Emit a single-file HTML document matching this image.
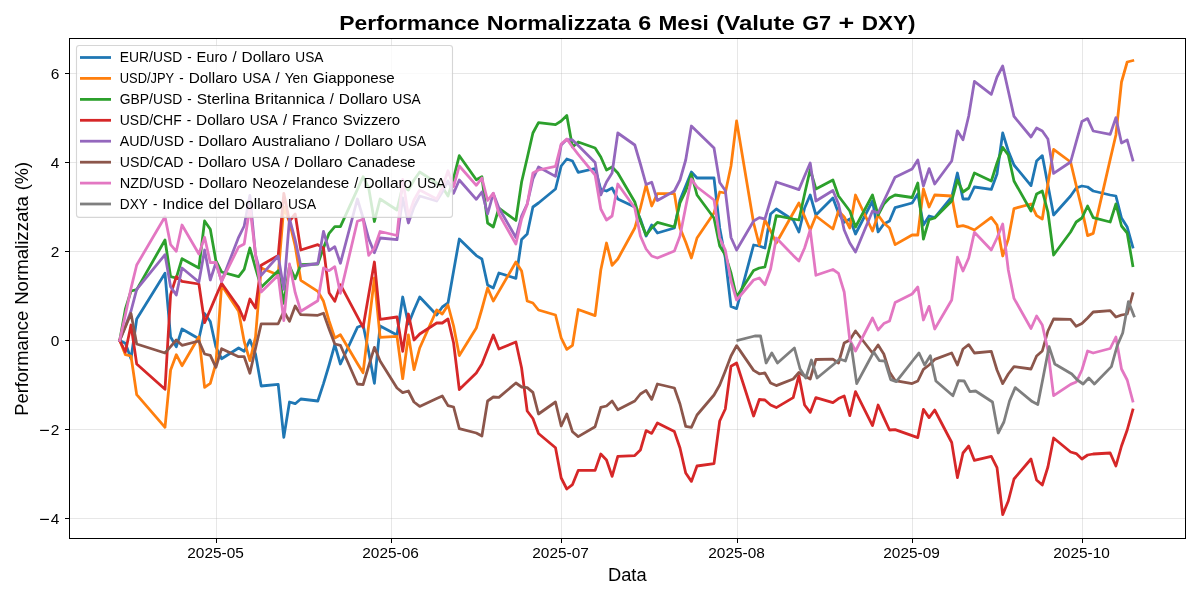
<!DOCTYPE html>
<html><head><meta charset="utf-8"><title>Chart</title>
<style>
html,body{margin:0;padding:0;background:#fff;}
svg{display:block;will-change:transform;}
text{font-family:"Liberation Sans",sans-serif;fill:#000;}
</style></head><body>
<svg width="1200" height="600" viewBox="0 0 1200 600">
<rect x="0" y="0" width="1200" height="600" fill="#ffffff"/>

<g stroke="#b0b0b0" stroke-opacity="0.3" stroke-width="1" fill="none" shape-rendering="crispEdges">
<line x1="216.5" y1="38.5" x2="216.5" y2="538.5"/>
<line x1="391.5" y1="38.5" x2="391.5" y2="538.5"/>
<line x1="561.5" y1="38.5" x2="561.5" y2="538.5"/>
<line x1="737.5" y1="38.5" x2="737.5" y2="538.5"/>
<line x1="912.5" y1="38.5" x2="912.5" y2="538.5"/>
<line x1="1082.5" y1="38.5" x2="1082.5" y2="538.5"/>
<line x1="69.5" y1="73.5" x2="1185.5" y2="73.5"/>
<line x1="69.5" y1="162.5" x2="1185.5" y2="162.5"/>
<line x1="69.5" y1="251.5" x2="1185.5" y2="251.5"/>
<line x1="69.5" y1="340.5" x2="1185.5" y2="340.5"/>
<line x1="69.5" y1="429.5" x2="1185.5" y2="429.5"/>
<line x1="69.5" y1="518.5" x2="1185.5" y2="518.5"/>
</g>
<clipPath id="c"><rect x="69.5" y="38.5" width="1116.0" height="500.0"/></clipPath>
<g clip-path="url(#c)" fill="none" stroke-width="2.78" stroke-linejoin="round" stroke-linecap="square">
<polyline stroke="#1f77b4" points="119.7,340.4 125.4,343.3 131.0,358.7 136.7,319.0 165.0,273.3 170.6,337.0 176.3,346.7 182.0,329.0 198.9,338.7 204.6,313.5 210.3,321.5 215.9,347.0 221.6,358.7 238.6,348.0 244.2,351.3 249.9,340.0 255.5,354.0 261.2,386.0 278.2,384.4 283.8,437.3 289.5,402.0 295.2,403.7 300.8,399.0 317.8,401.0 323.5,383.6 329.1,365.0 334.8,344.7 340.4,364.0 357.4,327.3 363.1,325.0 368.7,352.0 374.4,383.3 380.1,326.0 397.0,335.0 402.7,297.0 408.4,324.0 414.0,310.0 419.7,297.0 436.7,315.0 442.3,307.0 448.0,303.0 453.6,271.0 459.3,239.0 476.3,255.6 481.9,259.0 487.6,285.0 493.3,288.0 498.9,273.0 515.9,278.4 521.6,239.5 527.2,234.0 532.9,207.0 538.5,203.0 555.5,189.0 561.2,166.0 566.8,159.0 572.5,161.0 578.2,172.4 595.1,168.5 600.8,189.5 606.5,191.0 612.1,188.0 617.8,199.0 634.8,207.0 640.4,219.0 646.1,236.0 651.7,225.0 657.4,233.0 674.4,228.0 680.0,200.0 685.7,186.0 691.4,172.0 697.0,178.0 714.0,178.0 719.7,228.0 725.3,258.0 731.0,306.5 736.6,308.6 753.6,245.0 759.3,246.0 764.9,248.0 770.6,214.0 776.3,209.0 793.2,220.0 798.9,232.0 804.6,208.0 810.2,195.0 815.9,215.0 832.9,198.0 838.5,213.0 844.2,222.4 849.8,219.0 855.5,234.0 872.5,201.0 878.1,232.0 883.8,224.0 889.5,221.0 895.1,207.6 912.1,203.0 917.8,194.0 923.4,225.0 929.1,216.0 934.7,217.6 951.7,197.0 957.4,173.0 963.0,199.0 968.7,199.0 974.4,187.0 991.3,189.4 997.0,174.0 1002.7,133.0 1008.3,151.0 1014.0,165.0 1031.0,185.6 1036.6,161.0 1042.3,155.6 1047.9,185.0 1053.6,215.0 1070.6,196.0 1076.2,188.0 1081.9,186.0 1087.6,187.0 1093.2,191.0 1110.2,195.0 1115.9,196.0 1121.5,218.0 1127.2,227.0 1132.8,247.0"/>
<polyline stroke="#ff7f0e" points="119.7,340.4 125.4,354.7 131.0,356.0 136.7,394.7 165.0,427.3 170.6,370.0 176.3,354.7 182.0,365.7 198.9,336.7 204.6,387.3 210.3,383.3 215.9,363.5 221.6,285.3 238.6,311.3 244.2,341.5 249.9,360.7 255.5,337.0 261.2,268.0 278.2,275.0 283.8,207.0 289.5,222.0 295.2,246.0 300.8,280.4 317.8,291.3 323.5,301.3 329.1,321.0 334.8,338.0 340.4,334.7 357.4,363.5 363.1,372.7 368.7,325.3 374.4,278.0 380.1,337.3 397.0,336.3 402.7,378.7 408.4,335.0 414.0,369.6 419.7,348.0 436.7,310.0 442.3,314.0 448.0,305.0 453.6,326.0 459.3,355.6 476.3,328.0 481.9,309.0 487.6,288.0 493.3,301.0 498.9,291.4 515.9,262.0 521.6,271.0 527.2,301.0 532.9,303.0 538.5,310.0 555.5,315.0 561.2,338.0 566.8,349.4 572.5,345.3 578.2,309.5 595.1,315.6 600.8,270.0 606.5,243.0 612.1,265.3 617.8,259.0 634.8,228.0 640.4,208.0 646.1,185.0 651.7,206.0 657.4,193.6 674.4,193.6 680.0,228.0 685.7,242.0 691.4,258.0 697.0,238.0 714.0,213.0 719.7,192.0 725.3,193.0 731.0,166.0 736.6,121.0 753.6,223.0 759.3,245.0 764.9,220.0 770.6,231.0 776.3,243.0 793.2,213.0 798.9,203.0 804.6,216.5 810.2,230.0 815.9,216.0 832.9,229.0 838.5,211.0 844.2,217.0 849.8,228.0 855.5,195.0 872.5,231.0 878.1,215.0 883.8,223.0 889.5,228.0 895.1,244.6 912.1,235.0 917.8,235.0 923.4,189.0 929.1,207.0 934.7,195.0 951.7,196.0 957.4,226.6 963.0,225.6 968.7,227.4 974.4,230.0 991.3,217.4 997.0,225.0 1002.7,256.0 1008.3,239.0 1014.0,208.6 1031.0,204.0 1036.6,215.6 1042.3,219.0 1047.9,184.0 1053.6,149.4 1070.6,162.0 1076.2,185.5 1081.9,209.0 1087.6,235.6 1093.2,233.4 1110.2,159.4 1115.9,135.0 1121.5,82.0 1127.2,62.0 1132.8,60.6"/>
<polyline stroke="#2ca02c" points="119.7,340.4 125.4,309.0 131.0,291.0 136.7,289.6 165.0,240.0 170.6,276.7 176.3,278.0 182.0,258.7 198.9,268.0 204.6,221.0 210.3,229.3 215.9,260.7 221.6,272.0 238.6,276.7 244.2,269.3 249.9,248.0 255.5,268.0 261.2,287.3 278.2,270.7 283.8,303.3 289.5,266.0 295.2,278.7 300.8,264.7 317.8,264.0 323.5,248.0 329.1,233.3 334.8,226.7 340.4,226.7 357.4,189.3 363.1,176.7 368.7,188.0 374.4,221.5 380.1,199.0 397.0,210.0 402.7,186.0 408.4,190.0 414.0,180.0 419.7,172.0 436.7,183.0 442.3,187.0 448.0,196.0 453.6,178.0 459.3,155.7 476.3,179.7 481.9,176.7 487.6,223.0 493.3,227.0 498.9,208.0 515.9,220.5 521.6,182.0 527.2,158.0 532.9,133.0 538.5,122.6 555.5,124.6 561.2,121.0 566.8,115.4 572.5,147.0 578.2,142.0 595.1,148.0 600.8,157.0 606.5,170.0 612.1,167.0 617.8,173.0 634.8,202.0 640.4,221.0 646.1,235.0 651.7,228.0 657.4,222.4 674.4,227.0 680.0,203.0 685.7,191.0 691.4,174.0 697.0,195.0 714.0,218.0 719.7,246.0 725.3,255.0 731.0,273.0 736.6,297.0 753.6,270.5 759.3,268.0 764.9,267.0 770.6,243.0 776.3,215.6 793.2,219.0 798.9,220.0 804.6,194.0 810.2,169.5 815.9,189.0 832.9,180.0 838.5,196.0 844.2,203.5 849.8,211.0 855.5,227.0 872.5,195.0 878.1,215.0 883.8,204.0 889.5,198.0 895.1,195.0 912.1,197.5 917.8,183.0 923.4,239.0 929.1,219.6 934.7,218.0 951.7,201.0 957.4,180.0 963.0,192.0 968.7,188.0 974.4,173.0 991.3,181.0 997.0,163.0 1002.7,147.4 1008.3,155.0 1014.0,181.0 1031.0,211.0 1036.6,194.0 1042.3,191.0 1047.9,212.0 1053.6,255.0 1070.6,232.0 1076.2,222.0 1081.9,218.0 1087.6,206.0 1093.2,217.6 1110.2,222.0 1115.9,204.0 1121.5,226.0 1127.2,233.0 1132.8,265.6"/>
<polyline stroke="#d62728" points="119.7,340.4 125.4,352.0 131.0,325.0 136.7,364.0 165.0,389.3 170.6,294.7 176.3,276.7 182.0,281.3 198.9,284.0 204.6,322.7 210.3,309.6 215.9,296.4 221.6,283.3 238.6,307.3 244.2,320.0 249.9,299.0 255.5,308.0 261.2,265.3 278.2,255.5 283.8,193.3 289.5,221.0 295.2,214.0 300.8,250.0 317.8,244.7 323.5,248.0 329.1,292.7 334.8,301.3 340.4,284.7 357.4,316.7 363.1,327.3 368.7,294.7 374.4,262.0 380.1,319.3 397.0,317.0 402.7,351.3 408.4,314.0 414.0,340.0 419.7,334.0 436.7,323.0 442.3,323.0 448.0,319.0 453.6,343.0 459.3,389.6 476.3,373.0 481.9,364.0 487.6,349.4 493.3,335.0 498.9,349.0 515.9,342.0 521.6,368.0 527.2,411.0 532.9,418.5 538.5,433.5 555.5,447.8 561.2,478.0 566.8,489.0 572.5,484.6 578.2,470.4 595.1,470.4 600.8,454.0 606.5,460.0 612.1,476.4 617.8,456.4 634.8,455.6 640.4,450.0 646.1,430.6 651.7,433.4 657.4,423.0 674.4,431.6 680.0,448.0 685.7,473.0 691.4,481.4 697.0,466.0 714.0,463.6 719.7,421.0 725.3,409.0 731.0,366.3 736.6,363.0 753.6,416.0 759.3,399.5 764.9,400.0 770.6,405.0 776.3,407.6 793.2,397.6 798.9,375.6 804.6,405.0 810.2,412.4 815.9,397.6 832.9,402.6 838.5,398.6 844.2,396.0 849.8,415.6 855.5,391.6 872.5,425.6 878.1,405.0 883.8,417.6 889.5,430.0 895.1,429.6 912.1,435.6 917.8,437.6 923.4,409.4 929.1,417.6 934.7,410.0 951.7,442.5 957.4,477.6 963.0,453.0 968.7,446.0 974.4,460.4 991.3,456.4 997.0,467.6 1002.7,514.6 1008.3,501.0 1014.0,479.0 1031.0,459.0 1036.6,480.0 1042.3,485.0 1047.9,467.0 1053.6,438.0 1070.6,452.0 1076.2,453.6 1081.9,459.0 1087.6,455.0 1093.2,454.0 1110.2,453.0 1115.9,466.0 1121.5,446.0 1127.2,430.0 1132.8,410.0"/>
<polyline stroke="#9467bd" points="119.7,340.4 125.4,326.0 131.0,311.0 136.7,289.4 165.0,254.7 170.6,286.7 176.3,295.0 182.0,268.0 198.9,282.0 204.6,250.0 210.3,280.0 215.9,262.7 221.6,281.3 238.6,237.3 244.2,226.0 249.9,195.3 255.5,255.0 261.2,275.3 278.2,256.0 283.8,289.3 289.5,218.7 295.2,240.0 300.8,266.0 317.8,263.5 323.5,231.3 329.1,250.7 334.8,246.7 340.4,263.3 357.4,199.0 363.1,218.0 368.7,238.7 374.4,252.7 380.1,238.0 397.0,239.7 402.7,198.0 408.4,223.0 414.0,207.0 419.7,196.0 436.7,201.0 442.3,192.0 448.0,181.0 453.6,193.3 459.3,180.0 476.3,199.3 481.9,192.0 487.6,214.0 493.3,193.5 498.9,208.0 515.9,237.5 521.6,216.0 527.2,204.0 532.9,179.0 538.5,167.0 555.5,176.4 561.2,145.0 566.8,139.6 572.5,140.0 578.2,145.5 595.1,162.5 600.8,195.0 606.5,182.0 612.1,173.0 617.8,133.0 634.8,145.0 640.4,164.0 646.1,184.5 651.7,182.2 657.4,200.5 674.4,191.0 680.0,180.0 685.7,160.0 691.4,126.0 697.0,131.4 714.0,148.0 719.7,182.5 725.3,190.5 731.0,237.5 736.6,250.0 753.6,221.0 759.3,217.6 764.9,219.0 770.6,200.0 776.3,182.0 793.2,187.6 798.9,189.6 804.6,176.0 810.2,163.0 815.9,201.0 832.9,190.5 838.5,204.0 844.2,230.0 849.8,243.0 855.5,252.0 872.5,211.0 878.1,213.0 883.8,201.0 889.5,189.0 895.1,177.2 912.1,169.0 917.8,160.0 923.4,186.0 929.1,168.6 934.7,184.0 951.7,161.0 957.4,130.8 963.0,139.8 968.7,116.0 974.4,81.4 991.3,94.4 997.0,77.0 1002.7,66.0 1008.3,91.0 1014.0,116.4 1031.0,137.0 1036.6,128.0 1042.3,131.0 1047.9,139.0 1053.6,173.4 1070.6,162.0 1076.2,141.8 1081.9,121.6 1087.6,118.6 1093.2,131.0 1110.2,134.4 1115.9,117.6 1121.5,143.0 1127.2,140.0 1132.8,160.0"/>
<polyline stroke="#8c564b" points="119.7,340.4 125.4,327.0 131.0,313.5 136.7,344.0 165.0,353.0 170.6,346.7 176.3,340.0 182.0,345.3 198.9,341.0 204.6,354.0 210.3,355.3 215.9,367.3 221.6,348.7 238.6,356.7 244.2,356.7 249.9,373.3 255.5,348.5 261.2,323.8 278.2,323.8 283.8,311.3 289.5,321.3 295.2,306.0 300.8,314.7 317.8,315.3 323.5,313.3 329.1,329.0 334.8,344.0 340.4,345.3 357.4,384.0 363.1,384.7 368.7,366.0 374.4,347.3 380.1,361.0 397.0,388.0 402.7,392.6 408.4,391.0 414.0,402.0 419.7,406.4 436.7,398.6 442.3,396.0 448.0,405.6 453.6,407.0 459.3,428.6 476.3,433.0 481.9,436.0 487.6,401.0 493.3,397.0 498.9,397.4 515.9,383.0 521.6,387.0 527.2,387.6 532.9,392.4 538.5,414.0 555.5,402.0 561.2,426.0 566.8,414.0 572.5,431.8 578.2,436.6 595.1,426.7 600.8,407.4 606.5,406.0 612.1,401.0 617.8,409.7 634.8,401.0 640.4,394.0 646.1,390.4 651.7,399.4 657.4,384.0 674.4,388.0 680.0,404.0 685.7,426.4 691.4,427.4 697.0,415.0 714.0,395.0 719.7,385.0 725.3,371.0 731.0,356.0 736.6,345.6 753.6,370.4 759.3,373.8 764.9,373.0 770.6,383.0 776.3,385.6 793.2,379.0 798.9,372.5 804.6,376.0 810.2,379.0 815.9,359.5 832.9,359.2 838.5,363.0 844.2,343.0 849.8,340.0 855.5,331.0 872.5,353.0 878.1,345.0 883.8,354.0 889.5,372.0 895.1,380.6 912.1,383.6 917.8,381.0 923.4,369.3 929.1,365.0 934.7,359.4 951.7,353.0 957.4,365.0 963.0,349.0 968.7,344.6 974.4,353.0 991.3,351.4 997.0,370.0 1002.7,383.6 1008.3,374.0 1014.0,366.6 1031.0,369.0 1036.6,356.0 1042.3,351.0 1047.9,331.0 1053.6,319.0 1070.6,319.4 1076.2,326.3 1081.9,323.6 1087.6,318.0 1093.2,312.0 1110.2,310.6 1115.9,317.0 1121.5,315.0 1127.2,314.0 1132.8,293.6"/>
<polyline stroke="#e377c2" points="119.7,340.4 125.4,314.7 131.0,288.3 136.7,265.0 165.0,216.7 170.6,244.7 176.3,251.3 182.0,225.0 198.9,254.0 204.6,237.3 210.3,262.7 215.9,262.3 221.6,281.3 238.6,247.0 244.2,244.0 249.9,207.0 255.5,254.0 261.2,292.0 278.2,275.3 283.8,320.7 289.5,264.0 295.2,292.7 300.8,311.3 317.8,300.7 323.5,268.0 329.1,270.7 334.8,266.7 340.4,293.3 357.4,221.3 363.1,219.3 368.7,255.3 374.4,248.0 380.1,231.5 397.0,235.5 402.7,179.5 408.4,216.0 414.0,200.0 419.7,190.0 436.7,199.0 442.3,188.0 448.0,170.7 453.6,186.7 459.3,166.0 476.3,185.3 481.9,178.0 487.6,200.5 493.3,193.2 498.9,214.0 515.9,244.0 521.6,219.0 527.2,204.5 532.9,173.0 538.5,170.0 555.5,166.4 561.2,144.0 566.8,139.0 572.5,147.0 578.2,154.4 595.1,175.0 600.8,209.0 606.5,220.0 612.1,216.0 617.8,184.0 634.8,208.0 640.4,236.0 646.1,249.0 651.7,256.0 657.4,258.0 674.4,251.0 680.0,236.0 685.7,207.0 691.4,179.0 697.0,187.0 714.0,200.0 719.7,238.0 725.3,250.0 731.0,281.0 736.6,300.0 753.6,280.0 759.3,278.0 764.9,284.7 770.6,269.0 776.3,238.0 793.2,255.4 798.9,261.0 804.6,248.0 810.2,230.0 815.9,275.3 832.9,269.5 838.5,273.3 844.2,292.0 849.8,340.0 855.5,351.0 872.5,318.0 878.1,330.0 883.8,323.6 889.5,321.0 895.1,302.6 912.1,294.0 917.8,287.0 923.4,320.0 929.1,306.4 934.7,329.0 951.7,300.0 957.4,257.2 963.0,271.0 968.7,258.0 974.4,232.3 991.3,250.0 997.0,238.0 1002.7,224.0 1008.3,270.0 1014.0,298.4 1031.0,328.5 1036.6,316.0 1042.3,325.0 1047.9,350.0 1053.6,395.6 1070.6,384.4 1076.2,382.0 1081.9,370.0 1087.6,351.0 1093.2,353.0 1110.2,348.5 1115.9,337.0 1121.5,369.0 1127.2,380.0 1132.8,401.0"/>
<polyline stroke="#7f7f7f" points="737.8,340.4 754.8,336.0 760.5,335.8 766.1,363.0 771.8,353.0 777.5,363.0 794.4,348.0 800.1,369.0 805.8,378.0 811.4,360.0 817.1,378.0 834.1,364.0 839.7,359.0 845.4,361.0 851.0,344.0 856.7,383.6 873.7,352.0 879.3,360.6 885.0,361.0 890.7,379.6 896.3,381.6 913.3,360.0 919.0,353.0 924.6,365.0 930.3,355.6 935.9,381.0 952.9,395.8 958.6,380.6 964.2,381.0 969.9,391.6 975.6,391.0 992.5,402.0 998.2,433.0 1003.9,422.0 1009.5,401.0 1015.2,387.6 1032.2,401.6 1037.8,404.6 1043.5,375.6 1049.1,346.6 1054.8,364.0 1071.8,374.0 1077.4,380.0 1083.1,384.0 1088.8,378.0 1094.4,384.0 1111.4,366.6 1117.1,346.0 1122.7,333.0 1128.4,301.6 1134.0,316.0"/>
</g>
<rect x="69.5" y="38.5" width="1116.0" height="500.0" fill="none" stroke="#000" stroke-width="1" shape-rendering="crispEdges"/>
<g stroke="#000" stroke-width="1" shape-rendering="crispEdges">
<line x1="216.5" y1="538.5" x2="216.5" y2="543.4"/>
<line x1="391.5" y1="538.5" x2="391.5" y2="543.4"/>
<line x1="561.5" y1="538.5" x2="561.5" y2="543.4"/>
<line x1="737.5" y1="538.5" x2="737.5" y2="543.4"/>
<line x1="912.5" y1="538.5" x2="912.5" y2="543.4"/>
<line x1="1082.5" y1="538.5" x2="1082.5" y2="543.4"/>
<line x1="64.6" y1="73.5" x2="69.5" y2="73.5"/>
<line x1="64.6" y1="162.5" x2="69.5" y2="162.5"/>
<line x1="64.6" y1="251.5" x2="69.5" y2="251.5"/>
<line x1="64.6" y1="340.5" x2="69.5" y2="340.5"/>
<line x1="64.6" y1="429.5" x2="69.5" y2="429.5"/>
<line x1="64.6" y1="518.5" x2="69.5" y2="518.5"/>
</g>
<g font-size="14.4">
<text x="215.6" y="558.3" text-anchor="middle" textLength="56.6" lengthAdjust="spacingAndGlyphs">2025-05</text>
<text x="390.6" y="558.3" text-anchor="middle" textLength="56.6" lengthAdjust="spacingAndGlyphs">2025-06</text>
<text x="560.6" y="558.3" text-anchor="middle" textLength="56.6" lengthAdjust="spacingAndGlyphs">2025-07</text>
<text x="736.6" y="558.3" text-anchor="middle" textLength="56.6" lengthAdjust="spacingAndGlyphs">2025-08</text>
<text x="911.6" y="558.3" text-anchor="middle" textLength="56.6" lengthAdjust="spacingAndGlyphs">2025-09</text>
<text x="1081.6" y="558.3" text-anchor="middle" textLength="56.6" lengthAdjust="spacingAndGlyphs">2025-10</text>
<text x="59.3" y="79.0" text-anchor="end" textLength="8.6" lengthAdjust="spacingAndGlyphs">6</text>
<text x="59.3" y="168.0" text-anchor="end" textLength="8.6" lengthAdjust="spacingAndGlyphs">4</text>
<text x="59.3" y="257.0" text-anchor="end" textLength="8.6" lengthAdjust="spacingAndGlyphs">2</text>
<text x="59.3" y="346.0" text-anchor="end" textLength="8.6" lengthAdjust="spacingAndGlyphs">0</text>
<text x="59.3" y="435.0" text-anchor="end" textLength="8.6" lengthAdjust="spacingAndGlyphs">2</text>
<line x1="40.1" y1="430.4" x2="48.9" y2="430.4" stroke="#000" stroke-width="1.2"/>
<text x="59.3" y="524.0" text-anchor="end" textLength="8.6" lengthAdjust="spacingAndGlyphs">4</text>
<line x1="40.1" y1="519.4" x2="48.9" y2="519.4" stroke="#000" stroke-width="1.2"/>
</g>
<text x="339.30" y="30.0" font-size="20.2" font-weight="bold" textLength="140.18" lengthAdjust="spacingAndGlyphs">Performance</text>
<text x="486.86" y="30.0" font-size="20.2" font-weight="bold" textLength="143.92" lengthAdjust="spacingAndGlyphs">Normalizzata</text>
<text x="638.17" y="30.0" font-size="20.2" font-weight="bold" textLength="12.97" lengthAdjust="spacingAndGlyphs">6</text>
<text x="658.53" y="30.0" font-size="20.2" font-weight="bold" textLength="50.32" lengthAdjust="spacingAndGlyphs">Mesi</text>
<text x="716.24" y="30.0" font-size="20.2" font-weight="bold" textLength="78.61" lengthAdjust="spacingAndGlyphs">(Valute</text>
<text x="802.24" y="30.0" font-size="20.2" font-weight="bold" textLength="28.97" lengthAdjust="spacingAndGlyphs">G7</text>
<text x="838.60" y="30.0" font-size="20.2" font-weight="bold" textLength="15.74" lengthAdjust="spacingAndGlyphs">+</text>
<text x="861.73" y="30.0" font-size="20.2" font-weight="bold" textLength="53.65" lengthAdjust="spacingAndGlyphs">DXY)</text>
<text x="627.3" y="581" font-size="17.5" text-anchor="middle" textLength="38.6" lengthAdjust="spacingAndGlyphs">Data</text>
<g transform="translate(27.7,288.9) rotate(-90)">
<text x="-126.90" y="0.0" font-size="17.5" textLength="105.02" lengthAdjust="spacingAndGlyphs">Performance</text>
<text x="-15.98" y="0.0" font-size="17.5" textLength="108.79" lengthAdjust="spacingAndGlyphs">Normalizzata</text>
<text x="98.71" y="0.0" font-size="17.5" textLength="28.24" lengthAdjust="spacingAndGlyphs">(%)</text>
</g>
<rect x="76.5" y="45.5" width="376" height="171.9" rx="2.8" ry="2.8" fill="#fff" fill-opacity="0.8" stroke="#ccc" stroke-opacity="0.8" stroke-width="1.1"/>
<line x1="80" y1="57.5" x2="111" y2="57.5" stroke="#1f77b4" stroke-width="2.78"/>
<text x="119.80" y="62.1" font-size="14.4" textLength="62.35" lengthAdjust="spacingAndGlyphs">EUR/USD</text>
<text x="187.16" y="62.1" font-size="14.4" textLength="4.41" lengthAdjust="spacingAndGlyphs">-</text>
<text x="196.59" y="62.1" font-size="14.4" textLength="30.88" lengthAdjust="spacingAndGlyphs">Euro</text>
<text x="232.49" y="62.1" font-size="14.4" textLength="4.08" lengthAdjust="spacingAndGlyphs">/</text>
<text x="241.58" y="62.1" font-size="14.4" textLength="48.72" lengthAdjust="spacingAndGlyphs">Dollaro</text>
<text x="295.32" y="62.1" font-size="14.4" textLength="28.14" lengthAdjust="spacingAndGlyphs">USA</text>
<line x1="80" y1="78.4" x2="111" y2="78.4" stroke="#ff7f0e" stroke-width="2.78"/>
<text x="119.80" y="83.0" font-size="14.4" textLength="54.41" lengthAdjust="spacingAndGlyphs">USD/JPY</text>
<text x="179.22" y="83.0" font-size="14.4" textLength="4.41" lengthAdjust="spacingAndGlyphs">-</text>
<text x="188.65" y="83.0" font-size="14.4" textLength="48.72" lengthAdjust="spacingAndGlyphs">Dollaro</text>
<text x="242.39" y="83.0" font-size="14.4" textLength="28.14" lengthAdjust="spacingAndGlyphs">USA</text>
<text x="275.54" y="83.0" font-size="14.4" textLength="4.08" lengthAdjust="spacingAndGlyphs">/</text>
<text x="284.64" y="83.0" font-size="14.4" textLength="23.39" lengthAdjust="spacingAndGlyphs">Yen</text>
<text x="313.04" y="83.0" font-size="14.4" textLength="81.79" lengthAdjust="spacingAndGlyphs">Giapponese</text>
<line x1="80" y1="99.4" x2="111" y2="99.4" stroke="#2ca02c" stroke-width="2.78"/>
<text x="119.80" y="104.0" font-size="14.4" textLength="62.42" lengthAdjust="spacingAndGlyphs">GBP/USD</text>
<text x="187.24" y="104.0" font-size="14.4" textLength="4.41" lengthAdjust="spacingAndGlyphs">-</text>
<text x="196.66" y="104.0" font-size="14.4" textLength="52.95" lengthAdjust="spacingAndGlyphs">Sterlina</text>
<text x="254.63" y="104.0" font-size="14.4" textLength="70.07" lengthAdjust="spacingAndGlyphs">Britannica</text>
<text x="329.71" y="104.0" font-size="14.4" textLength="4.08" lengthAdjust="spacingAndGlyphs">/</text>
<text x="338.80" y="104.0" font-size="14.4" textLength="48.72" lengthAdjust="spacingAndGlyphs">Dollaro</text>
<text x="392.54" y="104.0" font-size="14.4" textLength="28.14" lengthAdjust="spacingAndGlyphs">USA</text>
<line x1="80" y1="120.3" x2="111" y2="120.3" stroke="#d62728" stroke-width="2.78"/>
<text x="119.80" y="124.9" font-size="14.4" textLength="61.89" lengthAdjust="spacingAndGlyphs">USD/CHF</text>
<text x="186.70" y="124.9" font-size="14.4" textLength="4.41" lengthAdjust="spacingAndGlyphs">-</text>
<text x="196.13" y="124.9" font-size="14.4" textLength="48.72" lengthAdjust="spacingAndGlyphs">Dollaro</text>
<text x="249.87" y="124.9" font-size="14.4" textLength="28.14" lengthAdjust="spacingAndGlyphs">USA</text>
<text x="283.02" y="124.9" font-size="14.4" textLength="4.08" lengthAdjust="spacingAndGlyphs">/</text>
<text x="292.12" y="124.9" font-size="14.4" textLength="45.54" lengthAdjust="spacingAndGlyphs">Franco</text>
<text x="342.67" y="124.9" font-size="14.4" textLength="57.32" lengthAdjust="spacingAndGlyphs">Svizzero</text>
<line x1="80" y1="141.2" x2="111" y2="141.2" stroke="#9467bd" stroke-width="2.78"/>
<text x="119.80" y="145.8" font-size="14.4" textLength="64.12" lengthAdjust="spacingAndGlyphs">AUD/USD</text>
<text x="188.93" y="145.8" font-size="14.4" textLength="4.41" lengthAdjust="spacingAndGlyphs">-</text>
<text x="198.36" y="145.8" font-size="14.4" textLength="48.72" lengthAdjust="spacingAndGlyphs">Dollaro</text>
<text x="252.10" y="145.8" font-size="14.4" textLength="78.14" lengthAdjust="spacingAndGlyphs">Australiano</text>
<text x="335.25" y="145.8" font-size="14.4" textLength="4.08" lengthAdjust="spacingAndGlyphs">/</text>
<text x="344.34" y="145.8" font-size="14.4" textLength="48.72" lengthAdjust="spacingAndGlyphs">Dollaro</text>
<text x="398.08" y="145.8" font-size="14.4" textLength="28.14" lengthAdjust="spacingAndGlyphs">USA</text>
<line x1="80" y1="162.2" x2="111" y2="162.2" stroke="#8c564b" stroke-width="2.78"/>
<text x="119.80" y="166.8" font-size="14.4" textLength="63.65" lengthAdjust="spacingAndGlyphs">USD/CAD</text>
<text x="188.47" y="166.8" font-size="14.4" textLength="4.41" lengthAdjust="spacingAndGlyphs">-</text>
<text x="197.89" y="166.8" font-size="14.4" textLength="48.72" lengthAdjust="spacingAndGlyphs">Dollaro</text>
<text x="251.63" y="166.8" font-size="14.4" textLength="28.14" lengthAdjust="spacingAndGlyphs">USA</text>
<text x="284.79" y="166.8" font-size="14.4" textLength="4.08" lengthAdjust="spacingAndGlyphs">/</text>
<text x="293.88" y="166.8" font-size="14.4" textLength="48.72" lengthAdjust="spacingAndGlyphs">Dollaro</text>
<text x="347.62" y="166.8" font-size="14.4" textLength="68.07" lengthAdjust="spacingAndGlyphs">Canadese</text>
<line x1="80" y1="183.1" x2="111" y2="183.1" stroke="#e377c2" stroke-width="2.78"/>
<text x="119.80" y="187.7" font-size="14.4" textLength="64.36" lengthAdjust="spacingAndGlyphs">NZD/USD</text>
<text x="189.17" y="187.7" font-size="14.4" textLength="4.41" lengthAdjust="spacingAndGlyphs">-</text>
<text x="198.60" y="187.7" font-size="14.4" textLength="48.72" lengthAdjust="spacingAndGlyphs">Dollaro</text>
<text x="252.34" y="187.7" font-size="14.4" textLength="96.98" lengthAdjust="spacingAndGlyphs">Neozelandese</text>
<text x="354.33" y="187.7" font-size="14.4" textLength="4.08" lengthAdjust="spacingAndGlyphs">/</text>
<text x="363.43" y="187.7" font-size="14.4" textLength="48.72" lengthAdjust="spacingAndGlyphs">Dollaro</text>
<text x="417.17" y="187.7" font-size="14.4" textLength="28.14" lengthAdjust="spacingAndGlyphs">USA</text>
<line x1="80" y1="204.0" x2="111" y2="204.0" stroke="#7f7f7f" stroke-width="2.78"/>
<text x="119.80" y="208.6" font-size="14.4" textLength="28.09" lengthAdjust="spacingAndGlyphs">DXY</text>
<text x="152.91" y="208.6" font-size="14.4" textLength="4.41" lengthAdjust="spacingAndGlyphs">-</text>
<text x="162.34" y="208.6" font-size="14.4" textLength="41.16" lengthAdjust="spacingAndGlyphs">Indice</text>
<text x="208.51" y="208.6" font-size="14.4" textLength="20.62" lengthAdjust="spacingAndGlyphs">del</text>
<text x="234.14" y="208.6" font-size="14.4" textLength="48.72" lengthAdjust="spacingAndGlyphs">Dollaro</text>
<text x="287.88" y="208.6" font-size="14.4" textLength="28.14" lengthAdjust="spacingAndGlyphs">USA</text>
</svg></body></html>
